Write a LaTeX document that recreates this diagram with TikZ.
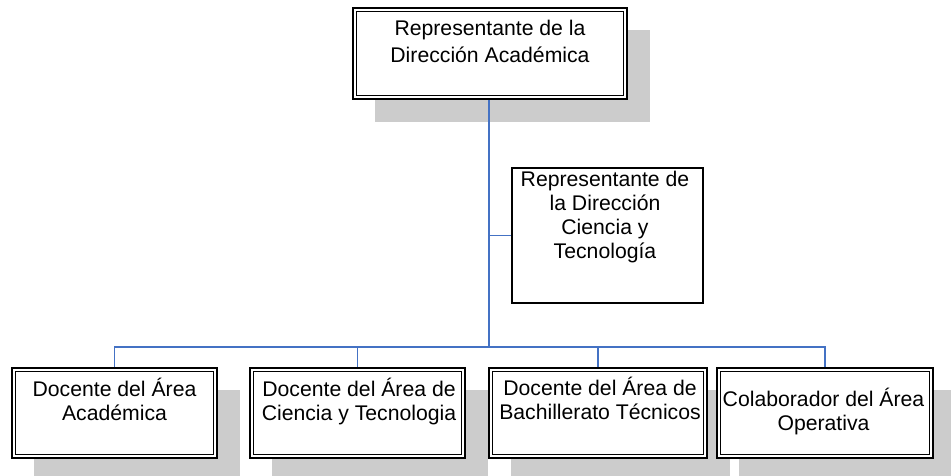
\documentclass[tikz,border=0pt]{standalone}
\usepackage{fontspec}
\setmainfont{Liberation Sans}
\definecolor{shade}{RGB}{204,204,204}
\definecolor{linkblue}{RGB}{68,114,196}
\pgfdeclarelayer{shadowlayer}
\pgfdeclarelayer{linklayer}
\pgfsetlayers{shadowlayer,linklayer,main}
\newcommand\tstrut{\rule{0pt}{20pt}}
\begin{document}
\begin{tikzpicture}[x=1pt,y=-1pt,
  orgbox/.style={draw=black, fill=white, line width=1.7pt, inner sep=0pt},
  plainbox/.style={draw=black, fill=white, line width=1.3pt, inner sep=0pt},
  innerline/.style={draw=black, line width=0.9pt},
  shadowfill/.style={fill=shade},
  txt/.style={inner sep=0pt, align=center, anchor=north, font=\fontsize{21.2}{24}\selectfont},
  conn/.style={draw=linkblue, line width=1.8pt}]
\useasboundingbox (0,0) rectangle (951,476);
% boxes
\node[orgbox, minimum width=274pt, minimum height=91pt] (top) at (490,53.5) {};
\node[plainbox, minimum width=191pt, minimum height=135pt] (mid) at (607.5,235.5) {};
\node[orgbox, minimum width=205pt, minimum height=90pt] (b1) at (114.5,413) {};
\node[orgbox, minimum width=215pt, minimum height=90pt] (b2) at (357.5,413) {};
\node[orgbox, minimum width=218pt, minimum height=90pt] (b3) at (598,413) {};
\node[orgbox, minimum width=216pt, minimum height=90pt] (b4) at (825,413) {};
\foreach \n in {top,b1,b2,b3,b4}
  \draw[innerline] ([shift={(4.5pt,-4.5pt)}]\n.north west) rectangle ([shift={(-4.5pt,4.5pt)}]\n.south east);
% texts
\node[txt, font=\fontsize{21.2}{27}\selectfont] (ttop) at (490,15) {\tstrut Representante de la\\Dirección Académica};
\node[txt] (tmid) at (605,166) {\tstrut Representante de\\la Dirección\\Ciencia y\\Tecnología};
\node[txt] (tb1) at (114.5,376) {\tstrut Docente del Área\\Académica};
\node[txt] (tb2) at (359,376) {\tstrut Docente del Área de\\Ciencia y Tecnologia};
\node[txt] (tb3) at (600,375) {\tstrut Docente del Área de\\Bachillerato Técnicos};
\node[txt] (tb4) at (823.5,386) {\tstrut Colaborador del Área\\Operativa};
% shadows
\begin{pgfonlayer}{shadowlayer}
\foreach \n in {top,b1,b2,b3,b4}
  \fill[shadowfill] ([shift={(22.5pt,-22.5pt)}]\n.north west) rectangle ([shift={(22.5pt,-22.5pt)}]\n.south east);
\end{pgfonlayer}
% connectors
\coordinate (hub) at (489,347);
\begin{pgfonlayer}{linklayer}
\draw[conn] (top.south -| hub) -- (hub);
\draw[conn] (mid.west -| hub) -- (mid.west);
\draw[conn] (b1.north) -- (b1.north |- hub) -- (b4.north |- hub) -- (b4.north);
\draw[conn] (b2.north) -- (b2.north |- hub);
\draw[conn] (b3.north) -- (b3.north |- hub);
\end{pgfonlayer}
\end{tikzpicture}
\end{document}
